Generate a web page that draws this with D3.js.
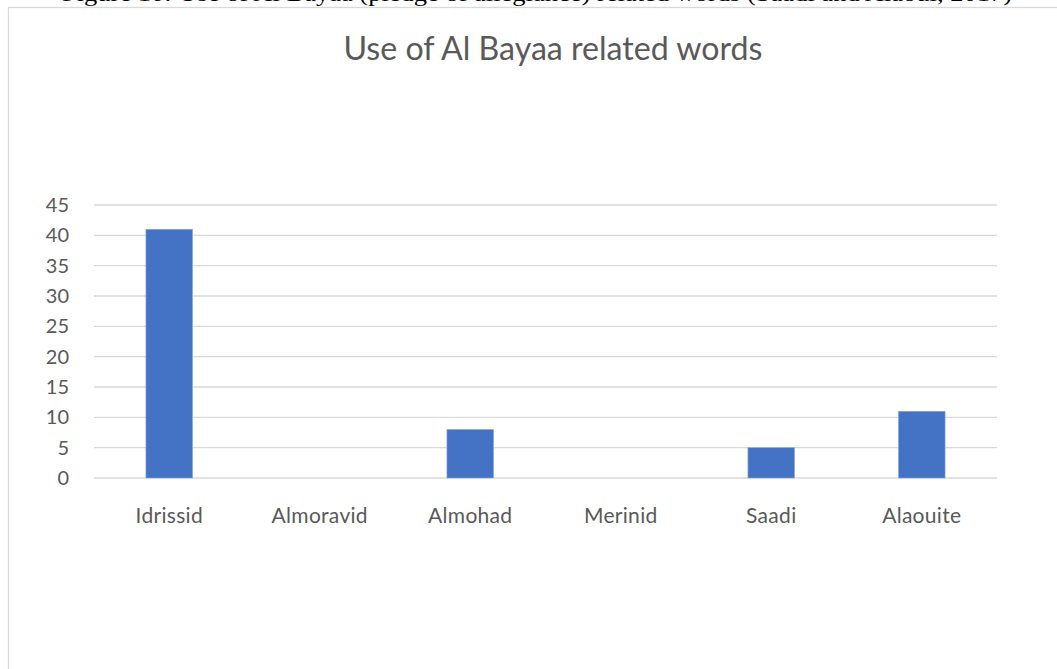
<!DOCTYPE html>
<meta charset="utf-8">
<style>
body { margin: 0; background: #fff; }
.grid line { stroke: #d9d9d9; stroke-width: 1.3; }
.axis text { font-family: Lato, sans-serif; fill: #595959; }
</style>
<svg width="1057" height="669"></svg>
<script src="https://cdn.jsdelivr.net/npm/d3@7"></script>
<script>

var categories = ["Idrissid", "Almoravid", "Almohad", "Merinid", "Saadi", "Alaouite"];
var counts = [41, 0, 8, 0, 5, 11];
var yTicks = [0, 5, 10, 15, 20, 25, 30, 35, 40, 45];

var svg = d3.select("svg");

// caption of the page, mostly cut off at the top
svg.append("text")
    .attr("x", 62)
    .attr("y", 1)
    .style("font-family", "Liberation Serif, serif")
    .style("font-size", "20px")
    .attr("textLength", 950)
    .attr("lengthAdjust", "spacingAndGlyphs")
    .text("Figure 10: Use of Al Bayaa (pledge of allegiance) related words (Saadi and Alaoui, 2017)");

// chart frame
svg.append("rect")
    .attr("x", 8.5).attr("y", 7.5)
    .attr("width", 1100).attr("height", 700)
    .attr("fill", "#fff")
    .attr("stroke", "#d9d9d9")
    .attr("stroke-width", 1.3);

svg.append("text")
    .attr("x", 553)
    .attr("y", 60)
    .attr("text-anchor", "middle")
    .attr("textLength", 419)
    .attr("lengthAdjust", "spacingAndGlyphs")
    .style("font-family", "Lato, sans-serif")
    .style("font-size", "33px")
    .style("fill", "#595959")
    .text("Use of Al Bayaa related words");

var x = d3.scaleBand()
    .domain(categories)
    .range([94, 997])
    .paddingInner(0.69)
    .paddingOuter(0.345);

var y = d3.scaleLinear()
    .domain([0, 45])
    .range([478, 205]);

svg.append("g")
    .attr("class", "grid")
  .selectAll("line")
    .data(yTicks)
  .enter().append("line")
    .attr("x1", 94).attr("x2", 997)
    .attr("y1", function(d) { return y(d); })
    .attr("y2", function(d) { return y(d); });

var yAxis = svg.append("g")
    .attr("class", "axis")
    .attr("transform", "translate(69,0)")
    .call(d3.axisLeft(y).tickValues(yTicks).tickSize(0).tickPadding(0));
yAxis.select(".domain").remove();
yAxis.selectAll("text").style("font-size", "20px");

svg.append("g")
  .selectAll("rect")
    .data(counts)
  .enter().append("rect")
    .attr("x", function(d, i) { return x(categories[i]); })
    .attr("width", x.bandwidth())
    .attr("y", function(d) { return y(d); })
    .attr("height", function(d) { return y(0) - y(d); })
    .attr("fill", "#4472c4")
    .attr("stroke", "#8faadc")
    .attr("stroke-width", 0.6);

var xAxis = svg.append("g")
    .attr("class", "axis")
    .attr("transform", "translate(0,478)")
    .call(d3.axisBottom(x).tickSize(0).tickPadding(30));
xAxis.select(".domain").remove();
xAxis.selectAll("text")
    .style("font-size", "21px")
    .style("letter-spacing", "0.3px");

</script>
